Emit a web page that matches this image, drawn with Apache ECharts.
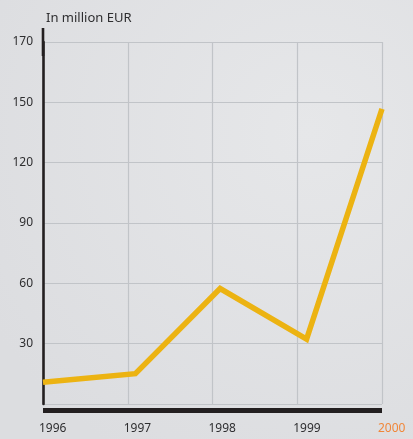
<!DOCTYPE html>
<html>
<head>
<meta charset="utf-8">
<script src="https://cdn.jsdelivr.net/npm/echarts@6/dist/echarts.min.js"></script>
<style>
  html, body { margin: 0; padding: 0; background: #e0e1e4; }
  #chart { width: 413px; height: 439px; }
</style>
</head>
<body>
<div id="chart"></div>
<script>
// Years shown on the horizontal axis
const years = [1996, 1997, 1998, 1999, 2000];
// Position of each observation along the time axis (fractional year)
const pointYears = [1996, 1997.09, 1998.09, 1999.11, 2000];
// Values in million EUR
const values = [10.8, 15.1, 57.4, 32.3, 146.7];
// Labels written on the value axis grid lines
const yTickLabels = ['30', '60', '90', '120', '150', '170'];

const FONT = '"Noto Sans", "DejaVu Sans", sans-serif';
const TEXT = '#2e2e30';

const chart = echarts.init(document.getElementById('chart'), null, { renderer: 'canvas' });

chart.setOption({
  backgroundColor: {
    type: 'radial', x: 0.75, y: 0.3, r: 0.9,
    colorStops: [
      { offset: 0, color: '#e6e7e9' },
      { offset: 1, color: '#dcdde0' }
    ]
  },
  animation: false,
  grid: { left: 43, right: 31, top: 42, bottom: 35, containLabel: false },
  xAxis: {
    type: 'value',
    min: years[0],
    max: years[years.length - 1],
    interval: 1,
    offset: 6,
    axisLine: { show: true, onZero: false, lineStyle: { color: '#231f20', width: 5, cap: 'butt' } },
    axisTick: { show: false },
    splitLine: { show: true, lineStyle: { color: '#c1c4c8', width: 1.2 } },
    axisLabel: {
      margin: 13,
      align: 'left',
      padding: [0, 0, 0, -4],
      fontFamily: FONT,
      fontSize: 12,
      formatter: v => String(v),
      color: v => (Number(v) === years[years.length - 1] ? '#f0873a' : TEXT)
    }
  },
  yAxis: {
    type: 'value',
    min: 0,
    max: 180,
    interval: 30,
    name: 'In million EUR',
    nameLocation: 'end',
    nameGap: 17,
    nameTextStyle: { align: 'left', fontFamily: FONT, fontSize: 13, color: TEXT, padding: [0, 0, 0, 3] },
    axisLine: {
      show: true,
      onZero: false,
      symbol: ['none', 'rect'],
      symbolSize: [2.6, 28],
      lineStyle: { color: '#231f20', width: 2.6 }
    },
    axisTick: { show: false },
    splitLine: { show: true, lineStyle: { color: '#c1c4c8', width: 1.2 } },
    axisLabel: {
      margin: 10,
      fontFamily: FONT,
      fontSize: 12,
      color: TEXT,
      formatter: v => (v === 0 ? '' : yTickLabels[v / 30 - 1])
    }
  },
  series: [{
    type: 'line',
    data: pointYears.map((x, i) => [x, values[i]]),
    showSymbol: false,
    clip: true,
    lineStyle: { color: '#ecb312', width: 5.5, join: 'miter' }
  }]
});
</script>
</body>
</html>
